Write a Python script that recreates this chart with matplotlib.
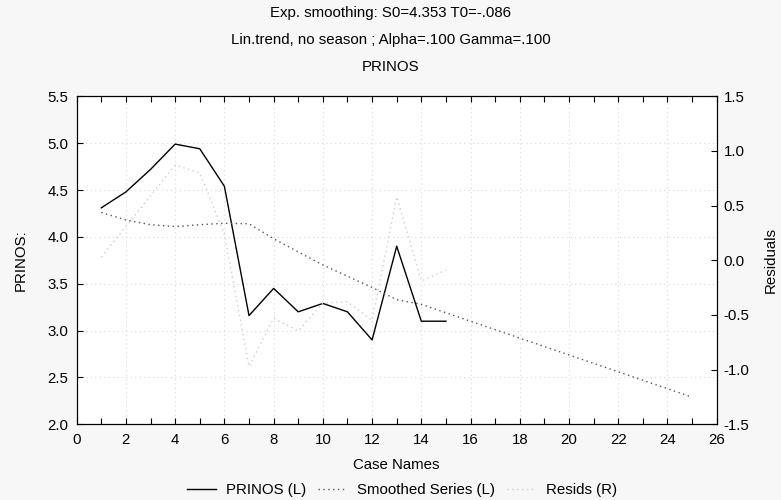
import matplotlib
matplotlib.use("Agg")
import matplotlib.pyplot as plt
from matplotlib.ticker import MultipleLocator

plt.rcParams['font.family'] = ['Liberation Sans', 'DejaVu Sans']
plt.rcParams['font.size'] = 10.8

# data
case = [1, 2, 3, 4, 5, 6, 7, 8, 9, 10, 11, 12, 13, 14, 15]
prinos = [4.31, 4.48, 4.72, 4.99, 4.94, 4.54, 3.16, 3.45, 3.20, 3.29, 3.20, 2.90, 3.90, 3.10, 3.10]

case_sm = list(range(1, 26))
smoothed = [4.26, 4.18, 4.13, 4.11, 4.13, 4.145, 4.14, 3.98, 3.84, 3.70, 3.58, 3.46, 3.33, 3.28, 3.19,
            3.10, 3.01, 2.92, 2.83, 2.74, 2.65, 2.56, 2.47, 2.38, 2.29]

resids = [0.03, 0.31, 0.59, 0.87, 0.80, 0.24, -0.97, -0.53, -0.645, -0.39, -0.38, -0.55, 0.58, -0.19, -0.09]

fig = plt.figure(figsize=(7.81, 5.00), dpi=100, facecolor='#f7f7f7')
ax = fig.add_axes([0.0982, 0.1514, 0.8195, 0.656])
ax.set_facecolor('white')
ax2 = ax.twinx()

l1, = ax.plot(case, prinos, color='black', lw=1.0, label='PRINOS (L)')
l2, = ax.plot(case_sm, smoothed, color='#555555', lw=1.0, ls=(0, (1, 2.5)), label='Smoothed Series (L)')
l3, = ax2.plot(case, resids, color='#cccccc', lw=1.0, ls=(0, (1, 2.5)), label='Resids (R)')

ax.set_xlim(0, 26)
ax.set_ylim(2.0, 5.5)
ax2.set_ylim(-1.5, 1.5)
ax.xaxis.set_major_locator(MultipleLocator(2))
ax.xaxis.set_minor_locator(MultipleLocator(1))
ax.yaxis.set_major_locator(MultipleLocator(0.5))
ax2.yaxis.set_major_locator(MultipleLocator(0.5))
ax.yaxis.set_major_formatter(lambda v, p: f"{v:.1f}")
ax2.yaxis.set_major_formatter(lambda v, p: f"{v:.1f}")

ax.tick_params(axis='x', which='both', direction='in', top=True, length=4, width=0.8, pad=6)
ax.tick_params(axis='y', direction='in', right=False, length=4, width=0.8, pad=6)
ax2.tick_params(axis='y', direction='in', length=4, width=0.8, pad=5)

ax.grid(True, which='major', color='#d8d8d8', ls=(0, (1, 3)), lw=0.8)

ax.set_xlabel('Case Names', labelpad=8)
ax.set_ylabel('PRINOS:', labelpad=14)
ax2.set_ylabel('Residuals', labelpad=10)

fig.text(0.5, 0.975, 'Exp. smoothing: S0=4.353 T0=-.086', ha='center', va='center')
fig.text(0.5, 0.920, 'Lin.trend, no season ; Alpha=.100 Gamma=.100', ha='center', va='center')
fig.text(0.5, 0.866, 'PRINOS', ha='center', va='center')

fig.legend(handles=[l1, l2, l3], loc='center', bbox_to_anchor=(0.515, 0.02), ncol=3,
           frameon=False, handlelength=1.9, columnspacing=0.8, handletextpad=0.7)

fig.savefig('out.png', dpi=100, facecolor=fig.get_facecolor())
